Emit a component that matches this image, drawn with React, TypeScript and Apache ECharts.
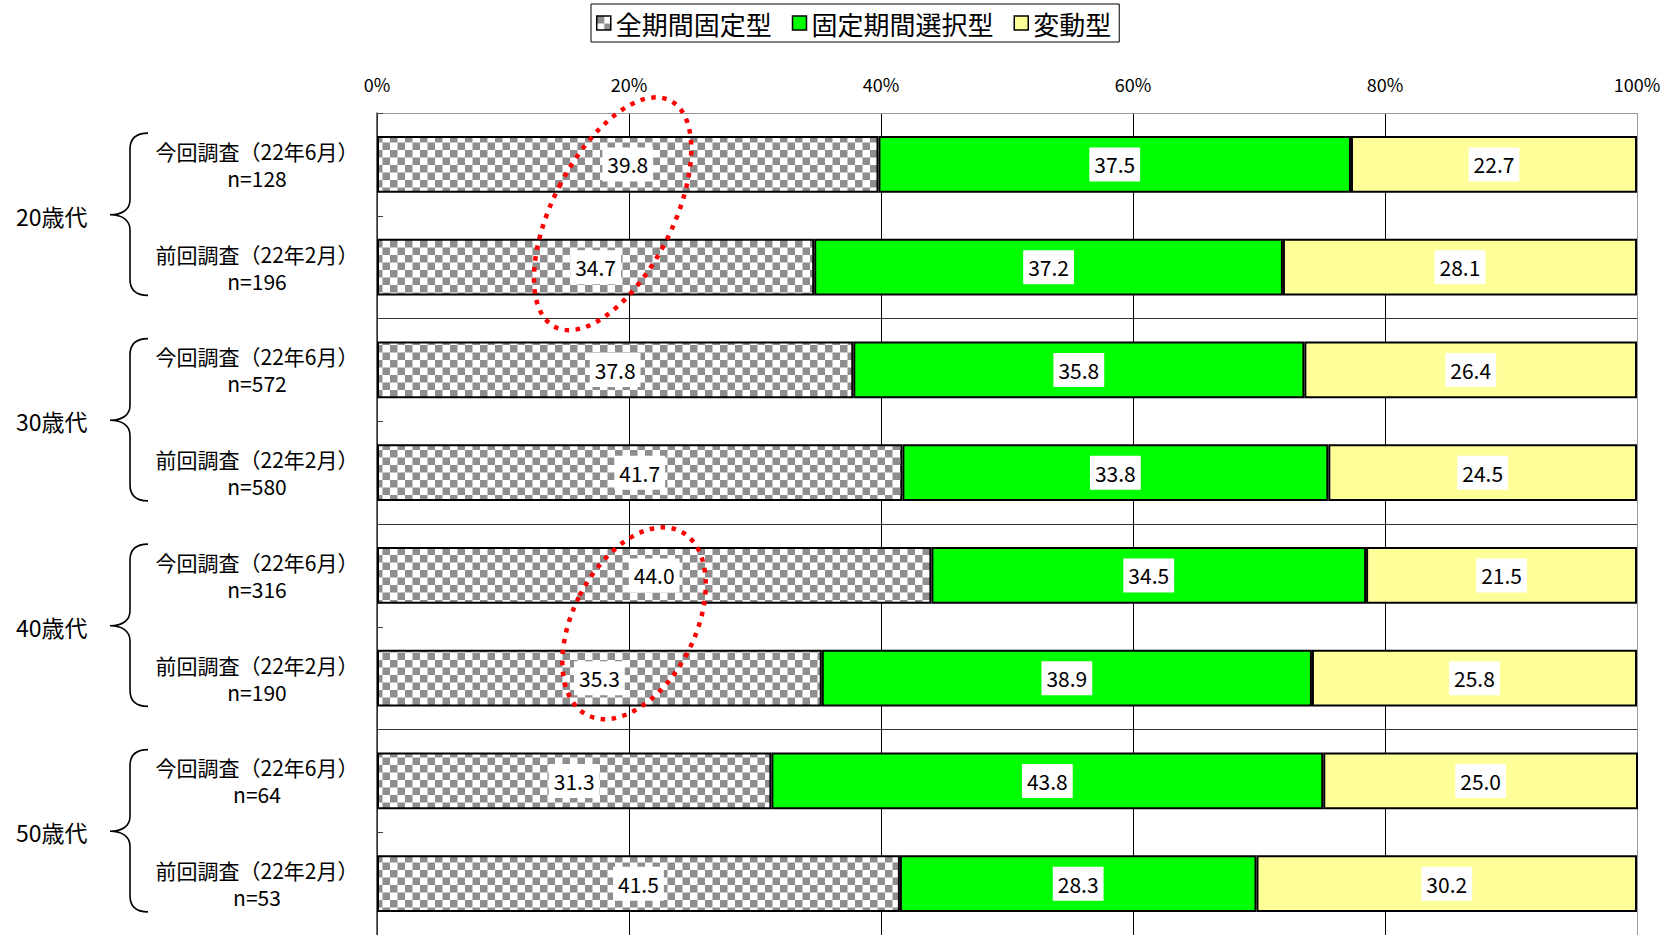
import React, { useEffect, useRef } from 'react';
import * as echarts from 'echarts';

// ---- data ----
const ageGroups = ['20歳代', '30歳代', '40歳代', '50歳代'];
const surveyLabels = ['今回調査（22年6月）', '前回調査（22年2月）'];
const sampleSizes = [128, 196, 572, 580, 316, 190, 64, 53];
const seriesNames = ['全期間固定型', '固定期間選択型', '変動型'];
const fullFixed = [39.8, 34.7, 37.8, 41.7, 44.0, 35.3, 31.3, 41.5];
const fixedPeriod = [37.5, 37.2, 35.8, 33.8, 34.5, 38.9, 43.8, 28.3];
const variableRate = [22.7, 28.1, 26.4, 24.5, 21.5, 25.8, 25.0, 30.2];

// rows grouped in the red dotted ellipses, with the value (%) at their centre
const circledRows = [
  { rows: [0, 1], atValue: 18.7, rx: 60, ry: 127, dy: -2 },
  { rows: [4, 5], atValue: 20.4, rx: 61, ry: 103, dy: -3.5 },
];

const FONT = '"Noto Sans CJK JP", "Noto Sans", sans-serif';

// curly brace drawn left of each age group (designed for a height of 161px)
const BRACE_H = 161;
const BRACE_D =
  'M40,0 C28,0 22,5 22,16 L22,66 C22,76 14,81 2,81 C14,81 22,86 22,96 L22,145 C22,156 28,161 40,161';
echarts.graphic.registerShape('brace', echarts.graphic.extendPath(BRACE_D, {}));

function checkerPattern() {
  const size = 15;
  const c = document.createElement('canvas');
  c.width = size;
  c.height = size;
  const g = c.getContext('2d')!;
  g.fillStyle = '#ffffff';
  g.fillRect(0, 0, size, size);
  g.fillStyle = '#8e8e8e';
  g.fillRect(0, 0, size / 2, size / 2);
  g.fillRect(size / 2, size / 2, size / 2, size / 2);
  return { image: c.toDataURL(), repeat: 'repeat', imageWidth: size, imageHeight: size };
}

export default function App() {
  const ref = useRef<HTMLDivElement>(null);

  useEffect(() => {
    const el = ref.current!;
    const chart = echarts.init(el, null, { renderer: 'svg' });

    const categories = sampleSizes.map((n, i) => `${surveyLabels[i % 2]}\nn=${n}`);

    const label = {
      show: true,
      position: 'inside',
      formatter: (p: any) => Number(p.value).toFixed(1),
      color: '#000',
      fontSize: 21,
      fontFamily: FONT,
      backgroundColor: '#fff',
      padding: [5, 5],
      lineHeight: 24,
    };

    const makeSeries = (name: string, data: number[], color: any) => ({
      name,
      type: 'bar',
      stack: 'total',
      barWidth: '55%',
      data,
      itemStyle: { color, borderColor: '#000', borderWidth: 2 },
      label,
      emphasis: { disabled: true },
    });

    chart.setOption({
      animation: false,
      legend: {
        data: seriesNames,
        top: 4,
        left: 591,
        padding: [6, 8, 6, 5],
        borderColor: '#000',
        borderWidth: 1,
        itemWidth: 14,
        itemHeight: 14,
        itemGap: 20,
        icon: 'rect',
        itemStyle: { borderWidth: 1.5 },
        textStyle: { fontSize: 26, color: '#000', fontFamily: FONT },
      },
      grid: { left: 377, top: 113, width: 1260, height: 824, containLabel: false },
      xAxis: {
        type: 'value',
        position: 'top',
        min: 0,
        max: 100,
        interval: 20,
        axisLine: { show: true, lineStyle: { color: '#999', width: 1 } },
        axisTick: { show: false },
        axisLabel: {
          formatter: '{value}%',
          fontSize: 18,
          margin: 20,
          color: '#000',
          fontFamily: FONT,
        },
        splitLine: {
          show: true,
          lineStyle: { color: ['#000', '#000', '#000', '#000', '#000', '#999'], width: 1 },
        },
      },
      yAxis: {
        type: 'category',
        data: categories,
        inverse: true,
        axisLine: { show: true, lineStyle: { color: '#404040', width: 1.5 } },
        axisTick: { show: true, inside: true, length: 6, lineStyle: { color: '#404040' } },
        axisLabel: {
          align: 'center',
          margin: 120,
          fontSize: 21,
          lineHeight: 27,
          color: '#000',
          fontFamily: FONT,
        },
        splitLine: {
          show: true,
          interval: (i: number) => i === 2 || i === 4 || i === 6,
          lineStyle: { color: '#333', width: 1 },
        },
      },
      series: [
        makeSeries(seriesNames[0], fullFixed, checkerPattern()),
        makeSeries(seriesNames[1], fixedPeriod, '#00ff00'),
        makeSeries(seriesNames[2], variableRate, '#ffff99'),
      ],
    });

    // group labels, braces and ellipses placed from the axis scales
    const yAt = (i: number) => chart.convertToPixel({ yAxisIndex: 0 }, i) as number;
    const xAt = (v: number) => chart.convertToPixel({ xAxisIndex: 0 }, v) as number;
    const band = yAt(1) - yAt(0);
    const barHalf = (band * 0.55) / 2;

    const graphics: any[] = [];
    ageGroups.forEach((name, g) => {
      const y0 = yAt(2 * g);
      const y1 = yAt(2 * g + 1);
      const top = y0 - barHalf - 3;
      const bottom = y1 + barHalf;
      graphics.push({
        type: 'text',
        x: 16,
        y: (y0 + y1) / 2,
        style: {
          text: name,
          fontSize: 23,
          fontFamily: FONT,
          fill: '#000',
          align: 'left',
          verticalAlign: 'middle',
        },
      });
      graphics.push({
        type: 'brace',
        x: 108,
        y: top,
        scaleY: (bottom - top) / BRACE_H,
        style: { fill: 'none', stroke: '#000', lineWidth: 1.6, strokeNoScale: true },
      });
    });

    circledRows.forEach((c) => {
      const cy = (yAt(c.rows[0]) + yAt(c.rows[1])) / 2 + c.dy;
      graphics.push({
        type: 'ellipse',
        x: xAt(c.atValue),
        y: cy,
        rotation: (-27 * Math.PI) / 180,
        shape: { cx: 0, cy: 0, rx: c.rx, ry: c.ry },
        style: { fill: 'none', stroke: '#ff0000', lineWidth: 4.5, lineDash: [4.5, 6.5] },
        z: 100,
      });
    });

    chart.setOption({ graphic: graphics });

    return () => chart.dispose();
  }, []);

  return (
    <div
      ref={ref}
      style={{ position: 'fixed', left: 0, top: 0, width: 1675, height: 935, background: '#fff' }}
    />
  );
}
